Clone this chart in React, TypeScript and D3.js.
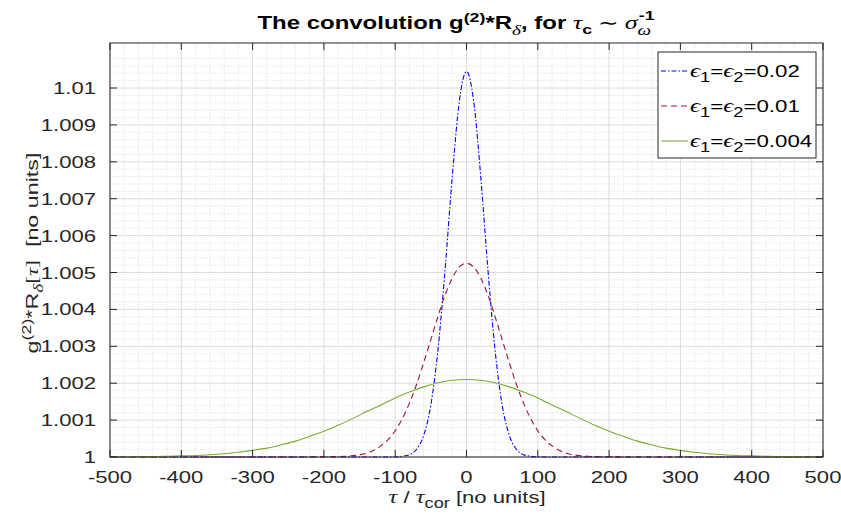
import React from 'react';
import * as d3 from 'd3';

const X_TICKS = [-500, -400, -300, -200, -100, 0, 100, 200, 300, 400, 500];
const Y_TICKS = [1, 1.001, 1.002, 1.003, 1.004, 1.005, 1.006, 1.007, 1.008, 1.009, 1.01];
const Y_TICK_LABELS = ['1', '1.001', '1.002', '1.003', '1.004', '1.005', '1.006', '1.007', '1.008', '1.009', '1.01'];
const SERIES_LABELS = ['0.02', '0.01', '0.004'];
const SERIES_COLORS = ['#0000ff', '#a2142f', '#77ac30'];

// eps = 0.02
const tauA = [-500, -200, -100, -90, -80, -70, -60, -50, -40, -30, -20, -10, 0, 10, 20, 30, 40, 50, 60, 70, 80, 90, 100, 200, 500];
const gA = [1, 1, 1.0, 1.00002, 1.00006, 1.00021, 1.00059, 1.00141, 1.00291, 1.00509, 1.00759, 1.00965, 1.01045, 1.00965, 1.00759, 1.00509, 1.00291, 1.00141, 1.00059, 1.00021, 1.00006, 1.00002, 1.0, 1, 1];
// eps = 0.01
const tauB = [-500, -250, -200, -170, -150, -140, -130, -120, -110, -100, -90, -80, -70, -60, -50, -40, -30, -20, -10, 0, 10, 20, 30, 40, 50, 60, 70, 80, 90, 100, 110, 120, 130, 140, 150, 170, 200, 250, 500];
const gB = [1, 1, 1.000005, 1.00002, 1.00006, 1.0001, 1.00018, 1.0003, 1.00047, 1.00071, 1.00104, 1.00146, 1.00197, 1.00256, 1.00318, 1.00381, 1.00439, 1.00485, 1.00515, 1.00525, 1.00515, 1.00485, 1.00439, 1.00381, 1.00318, 1.00256, 1.00197, 1.00146, 1.00104, 1.00071, 1.00047, 1.0003, 1.00018, 1.0001, 1.00006, 1.00002, 1.000005, 1, 1];
// eps = 0.004
const tauC = [-500, -480, -460, -440, -420, -400, -380, -360, -340, -320, -300, -280, -260, -240, -220, -200, -180, -160, -140, -120, -100, -80, -60, -40, -20, 0, 20, 40, 60, 80, 100, 120, 140, 160, 180, 200, 220, 240, 260, 280, 300, 320, 340, 360, 380, 400, 420, 440, 460, 480, 500];
const gC = [1.000003, 1.000005, 1.00001, 1.000012, 1.00002, 1.00003, 1.00004, 1.00006, 1.00009, 1.00013, 1.00018, 1.00024, 1.00033, 1.00043, 1.00056, 1.0007, 1.00086, 1.00104, 1.00123, 1.00141, 1.0016, 1.00176, 1.0019, 1.00201, 1.00208, 1.0021, 1.00208, 1.00201, 1.0019, 1.00176, 1.0016, 1.00141, 1.00123, 1.00104, 1.00086, 1.0007, 1.00056, 1.00043, 1.00033, 1.00024, 1.00018, 1.00013, 1.00009, 1.00006, 1.00004, 1.00003, 1.00002, 1.000012, 1.00001, 1.000005, 1.000003];

const SERIES = [
  { tau: tauA, g: gA, dash: '5,2,1.5,2' },
  { tau: tauB, g: gB, dash: '6,4' },
  { tau: tauC, g: gC, dash: 'none' },
];

const W = 841, H = 520;
const L = 110, R = 823, T = 43, B = 457;
const SANS = 'Liberation Sans, Arial, Helvetica, sans-serif';
const SERIF = 'Liberation Serif, Times New Roman, serif';
const AX = '#262626';

function Stretch({ x, y, sx = 1.37, rotate = 0, children }: { x: number; y: number; sx?: number; rotate?: number; children: React.ReactNode }) {
  return <g transform={`translate(${x},${y}) rotate(${rotate}) scale(${sx},1)`}>{children}</g>;
}

export default function App() {
  const x = d3.scaleLinear().domain([-500, 500]).range([L, R]);
  const y = d3.scaleLinear().domain([1, 1.01122]).range([B, T]);
  const xMinor = d3.range(-500, 501, 20).filter((v) => v % 100 !== 0);
  const yMinor = d3.range(0, 11.2, 0.2).map((v) => 1 + v / 1000).filter((v, i) => i % 5 !== 0);
  const line = (tau: number[], g: number[]) =>
    d3.line<number>().x((_, i) => x(tau[i])).y((d) => y(d)).curve(d3.curveMonotoneX)(g) || '';

  return (
    <svg width={W} height={H} style={{ position: 'absolute', left: 0, top: 0, background: '#fff' }} fontFamily={SANS}>
      <rect x={0} y={0} width={W} height={H} fill="#fff" />
      <rect x={L} y={T} width={R - L} height={B - T} fill="#fff" />
      {xMinor.map((v) => (
        <line key={'xm' + v} x1={x(v)} x2={x(v)} y1={T} y2={B} stroke="#e6e6e6" strokeWidth={1} strokeDasharray="1.5,1.5" />
      ))}
      {yMinor.map((v, i) => (
        <line key={'ym' + i} x1={L} x2={R} y1={y(v)} y2={y(v)} stroke="#e6e6e6" strokeWidth={1} strokeDasharray="1.5,1.5" />
      ))}
      {X_TICKS.map((v) => (
        <line key={'xg' + v} x1={x(v)} x2={x(v)} y1={T} y2={B} stroke="#dcdcdc" strokeWidth={1} />
      ))}
      {Y_TICKS.map((v) => (
        <line key={'yg' + v} x1={L} x2={R} y1={y(v)} y2={y(v)} stroke="#dcdcdc" strokeWidth={1} />
      ))}
      {SERIES.map((s, i) => (
        <path key={'s' + i} d={line(s.tau, s.g)} fill="none" stroke={SERIES_COLORS[i]} strokeWidth={1.1} strokeDasharray={s.dash} />
      ))}
      <rect x={L} y={T} width={R - L} height={B - T} fill="none" stroke={AX} strokeWidth={1} />
      {X_TICKS.map((v) => (
        <g key={'xt' + v}>
          <line x1={x(v)} x2={x(v)} y1={B} y2={B - 7} stroke={AX} />
          <line x1={x(v)} x2={x(v)} y1={T} y2={T + 7} stroke={AX} />
          <Stretch x={x(v)} y={483} sx={1.3}>
            <text textAnchor="middle" fontSize={17} fill={AX}>{v}</text>
          </Stretch>
        </g>
      ))}
      {Y_TICKS.map((v, i) => (
        <g key={'yt' + v}>
          <line x1={L} x2={L + 7} y1={y(v)} y2={y(v)} stroke={AX} />
          <line x1={R} x2={R - 7} y1={y(v)} y2={y(v)} stroke={AX} />
          <Stretch x={96} y={y(v) + 6} sx={1.3}>
            <text textAnchor="end" fontSize={17} fill={AX}>{Y_TICK_LABELS[i]}</text>
          </Stretch>
        </g>
      ))}
      {/* title */}
      <Stretch x={456} y={29}>
        <text textAnchor="middle" fontSize={17.5} fontWeight="bold" fill="#000">
          <tspan>The convolution g</tspan>
          <tspan fontSize={13} dy={-7}>(2)</tspan>
          <tspan dy={7}>*R</tspan>
          <tspan fontFamily={SERIF} fontStyle="italic" fontWeight="normal" fontSize={14} dy={6}>δ</tspan>
          <tspan dy={-6}>, for </tspan>
          <tspan fontFamily={SERIF} fontStyle="italic" fontWeight="normal" fontSize={19}>τ</tspan>
          <tspan fontSize={13} dy={5}>c</tspan>
          <tspan fontFamily={SERIF} fontWeight="normal" dy={-5}> ∼ </tspan>
          <tspan fontFamily={SERIF} fontStyle="italic" fontWeight="normal" fontSize={19}>σ</tspan>
          <tspan fontFamily={SERIF} fontStyle="italic" fontWeight="normal" fontSize={14} dy={6}>ω</tspan>
          <tspan fontSize={13} dx={-9} dy={-15}>-1</tspan>
        </text>
      </Stretch>
      {/* x label */}
      <Stretch x={467} y={503} sx={1.3}>
        <text textAnchor="middle" fontSize={17} fill={AX}>
          <tspan fontFamily={SERIF} fontStyle="italic" fontSize={19}>τ</tspan>
          <tspan> / </tspan>
          <tspan fontFamily={SERIF} fontStyle="italic" fontSize={19}>τ</tspan>
          <tspan fontSize={14} dy={5}>cor</tspan>
          <tspan dy={-5}> [no units]</tspan>
        </text>
      </Stretch>
      {/* y label */}
      <Stretch x={38} y={253} rotate={-90}>
        <text textAnchor="middle" fontSize={17} fill={AX}>
          <tspan>g</tspan>
          <tspan fontSize={13} dy={-7}>(2)</tspan>
          <tspan dy={7}>*R</tspan>
          <tspan fontFamily={SERIF} fontStyle="italic" fontSize={14} dy={5}>δ</tspan>
          <tspan fontFamily={SERIF} dy={-5}>[</tspan>
          <tspan fontFamily={SERIF} fontStyle="italic">τ</tspan>
          <tspan fontFamily={SERIF}>]</tspan>
          <tspan>{'\u00a0\u00a0[no units]'}</tspan>
        </text>
      </Stretch>
      {/* legend */}
      <rect x={658} y={52} width={158} height={106} fill="#fff" stroke={AX} strokeWidth={1} />
      {SERIES_LABELS.map((lab, i) => {
        const cy = 71 + i * 35;
        return (
          <g key={'lg' + i}>
            <line x1={661} x2={688} y1={cy} y2={cy} stroke={SERIES_COLORS[i]} strokeWidth={1.1} strokeDasharray={SERIES[i].dash} />
            <Stretch x={690} y={cy + 6} sx={1.31}>
              <text fontSize={17} fill="#000">
                <tspan fontFamily={SERIF} fontStyle="italic" fontSize={19}>ϵ</tspan>
                <tspan fontSize={14} dy={5}>1</tspan>
                <tspan dy={-5}>=</tspan>
                <tspan fontFamily={SERIF} fontStyle="italic" fontSize={19}>ϵ</tspan>
                <tspan fontSize={14} dy={5}>2</tspan>
                <tspan dy={-5}>={lab}</tspan>
              </text>
            </Stretch>
          </g>
        );
      })}
    </svg>
  );
}
